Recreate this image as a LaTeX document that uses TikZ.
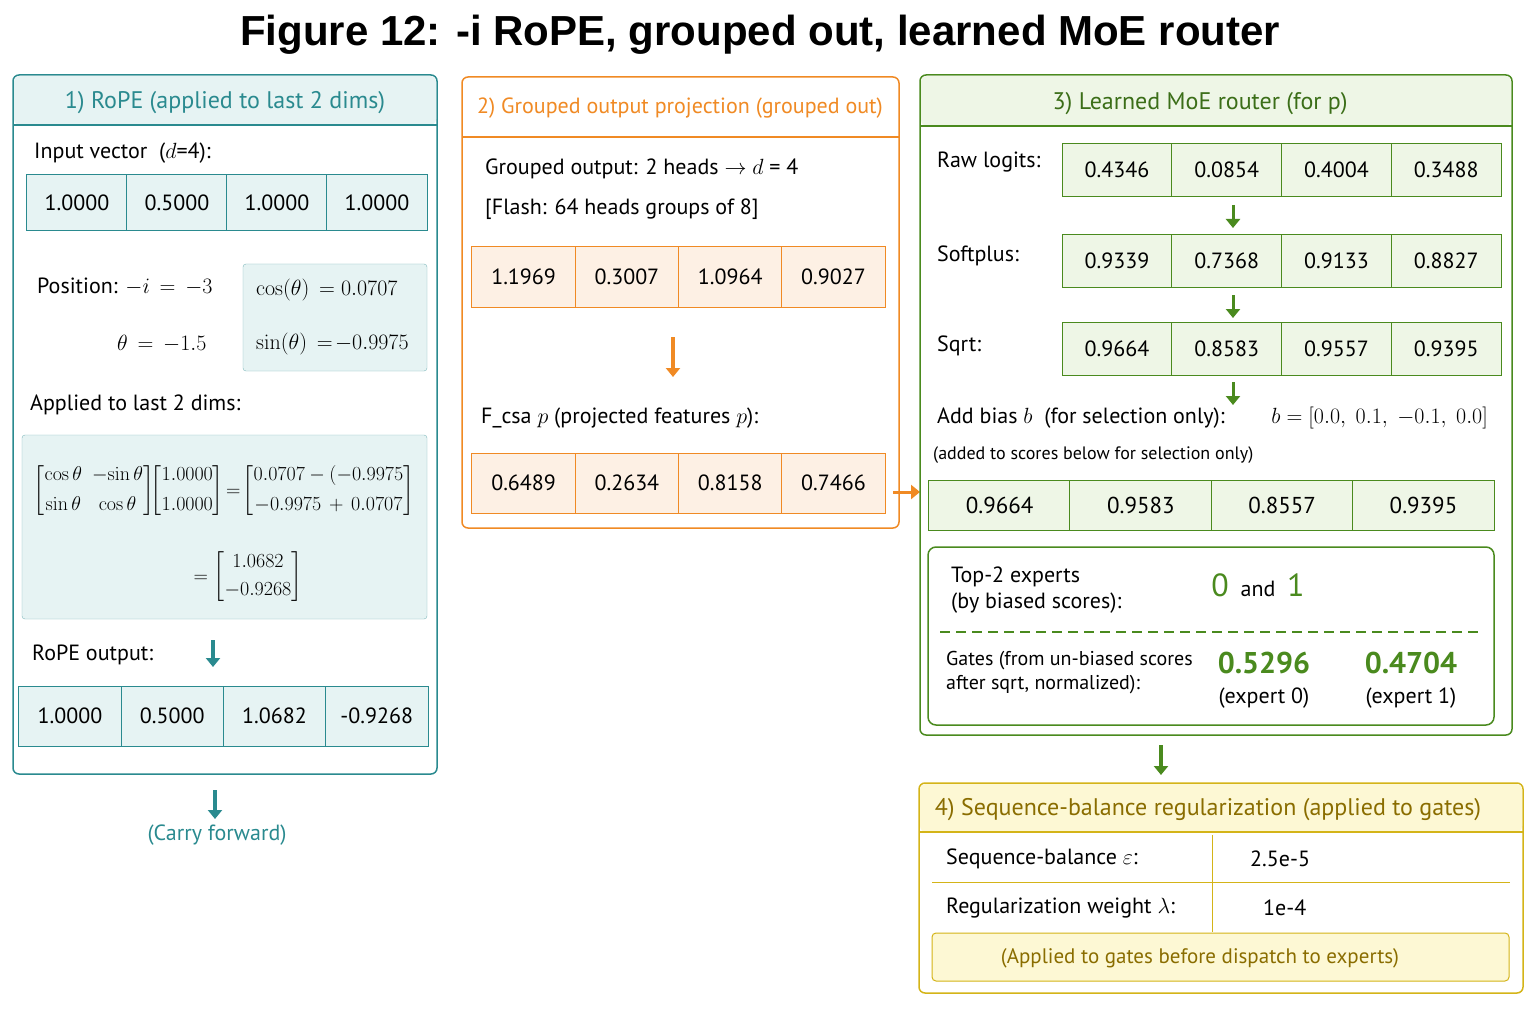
\RequirePackage{fix-cm}
\documentclass[tikz,border=0pt]{standalone}
\usepackage{amsmath}
\usepackage[no-math]{fontspec}
\setmainfont{PT Sans}
\newfontfamily\titlefont{Liberation Sans}
\usetikzlibrary{arrows.meta}
\DeclareMathSizes{22}{22}{16}{12}
\DeclareMathSizes{20}{20}{15}{11}
\definecolor{teal1}{HTML}{2A8A8F}\definecolor{tealf}{HTML}{E6F3F3}
\definecolor{ora}{HTML}{F08A24}\definecolor{oraf}{HTML}{FDF0E4}
\definecolor{grn}{HTML}{4A8A1E}\definecolor{grnf}{HTML}{EEF6E6}
\definecolor{gold}{HTML}{D4B418}\definecolor{goldf}{HTML}{FDF8D4}\definecolor{goldt}{HTML}{8A6D00}
\newcommand{\fs}[1]{\fontsize{#1}{#1}\selectfont}
\begin{document}
\begin{tikzpicture}[x=1pt,y=-1pt,
 txt/.style={anchor=west,font=\fs{22},inner sep=0pt},
 arr/.style={-{Triangle[length=9pt,width=14pt]},line width=3.5pt,#1}]
\useasboundingbox (0,0) rectangle (1536,1024);
\node[font=\titlefont\bfseries\fs{42}] (title) at (760,35) {Figure 12: -i RoPE, grouped out, learned MoE router};
% ---- panel 1
\draw[teal1,line width=1.5pt,rounded corners=6pt,fill=white] (13,75) rectangle (437,774);
\fill[tealf,rounded corners=6pt] (14,76) rectangle (436,125);
\draw[teal1,line width=1.5pt] (13,125) -- (437,125);
\node[font=\fs{24},text=teal1] (t1) at (225,103) {1)~RoPE (applied to last 2 dims)};
\node[txt] (iv) at (34,153) {Input vector \ ($d$=4):};
\foreach \v [count=\i] in {1.0000,0.5000,1.0000,1.0000}
  \node[draw=teal1,fill=tealf,line width=1pt,minimum width=101pt,minimum height=56pt,font=\fs{22}] (a\i) at (77+100*\i-100,203) {\v};
\node[txt] (pos) at (37,287) {Position: $-i\,=\,-3$};
\node[txt] (th) at (117,344) {$\theta\,=\,-1.5$};
\draw[teal1!60,fill=tealf,rounded corners=3pt] (243,264) rectangle (427,371);
\node[txt] (cs) at (256,290) {$\mathrm{cos}(\theta)\,=0.0707$};
\node[txt] (sn) at (256,344) {$\mathrm{sin}(\theta)\,=\!-0.9975$};
\node[txt] (ap) at (30,405) {Applied to last 2 dims:};
\draw[teal1!60,fill=tealf,rounded corners=3pt] (22,435) rectangle (427,619);
\node[font=\fs{20},inner sep=0pt] (mx) at (224,491) {$\left[\begin{matrix}\mathrm{cos}\,\theta & -\mathrm{sin}\,\theta\\[10pt] \mathrm{sin}\,\theta & \mathrm{cos}\,\theta\end{matrix}\right]\!\!\left[\begin{matrix}1.0000\\[10pt]1.0000\end{matrix}\right]\!=\!\left[\begin{matrix}0.0707-(-0.9975\\[10pt] -0.9975\,+\,0.0707\end{matrix}\right]$};
\node[font=\fs{20},inner sep=0pt] (mx2) at (248,577) {$=\left[\begin{matrix}1.0682\\[8pt]-0.9268\end{matrix}\right]$};
\node[txt] (ro) at (32,655) {RoPE output:};
\coordinate (r1) at (213,640); \coordinate (r2) at (213,667);
\draw[arr=teal1] (r1) -- (r2);
\foreach \v [count=\i] in {1.0000,0.5000,1.0682,-0.9268}
  \node[draw=teal1,fill=tealf,line width=1pt,minimum width=102.5pt,minimum height=60pt,font=\fs{22}] (b\i) at (70+102.25*\i-102.25,716) {\v};
\coordinate (c1) at (215,790); \coordinate (c2) at (215,819);
\draw[arr=teal1] (c1) -- (c2);
\node[font=\fs{22},text=teal1] (cf) at (217,835) {(Carry forward)};
% ---- panel 2
\draw[ora,line width=1.5pt,rounded corners=6pt,fill=white] (462,77) rectangle (899,528);
\draw[ora,line width=1.5pt] (462,137) -- (899,137);
\node[font=\fs{22},text=ora] (t2) at (680,108) {2)~Grouped output projection (grouped out)};
\node[txt] (go) at (485,169) {Grouped output: 2 heads $\to$ $d$ = 4};
\node[txt] (fl) at (485,209) {[Flash: 64 heads groups of 8]};
\foreach \v [count=\i] in {1.1969,0.3007,1.0964,0.9027}
  \node[draw=ora,fill=oraf,line width=1pt,minimum width=103.5pt,minimum height=60pt,font=\fs{22}] (p\i) at (523.6+103.3*\i-103.3,277) {\v};
\coordinate (o1) at (673,337); \coordinate (o2) at (673,377);
\draw[arr=ora] (o1) -- (o2);
\node[txt] (fc) at (481,418) {F\_csa $p$ (projected features $p$):};
\foreach \v [count=\i] in {0.6489,0.2634,0.8158,0.7466}
  \node[draw=ora,fill=oraf,line width=1pt,minimum width=103.5pt,minimum height=60pt,font=\fs{22}] (q\i) at (523.6+103.3*\i-103.3,483) {\v};
\coordinate (x1) at (893,492); \coordinate (x2) at (920,492);
\draw[arr=ora,line width=3pt] (x1) -- (x2);
% ---- panel 3
\draw[grn,line width=1.5pt,rounded corners=6pt,fill=white] (920,75) rectangle (1512,735);
\fill[grnf,rounded corners=6pt] (921,76) rectangle (1511,126);
\draw[grn,line width=1.5pt] (920,126) -- (1512,126);
\node[font=\fs{24},text=grn!80!black] (t3) at (1200,104) {3)~Learned MoE router (for p)};
\node[txt] (rl) at (937,162) {Raw logits:};
\node[txt] (sp) at (937,256) {Softplus:};
\node[txt] (sq) at (937,346) {Sqrt:};
\foreach \r/\y/\vals in {u/170/{0.4346,0.0854,0.4004,0.3488},v/261/{0.9339,0.7368,0.9133,0.8827},w/349/{0.9664,0.8583,0.9557,0.9395}}
  \foreach \v [count=\i] in \vals
    \node[draw=grn,fill=grnf,line width=1pt,minimum width=110pt,minimum height=53pt,font=\fs{22}] (\r\i) at (1117+109.75*\i-109.75,\y) {\v};
\foreach \a/\b in {205/228,295/318,382/405}{
  \draw[arr=grn,line width=3pt] (1233,\a) -- (1233,\b);}
\node[txt] (ab) at (937,418) {Add bias $b$ \ (for selection only):};
\node[font=\fs{22},anchor=east,inner sep=0pt] (bv) at (1488,418) {$b=[0.0,\ 0.1,\ -0.1,\ 0.0]$};
\node[txt,font=\fs{18}] (ad) at (933,455) {(added to scores below for selection only)};
\foreach \v [count=\i] in {0.9664,0.9583,0.8557,0.9395}
  \node[draw=grn,fill=grnf,line width=1pt,minimum width=142pt,minimum height=50pt,font=\fs{23}] (s\i) at (999.6+141.3*\i-141.3,505) {\v};
\draw[grn,line width=1.5pt,rounded corners=8pt] (928,547) rectangle (1494,725);
\node[txt,align=left] (tp) at (951,590) {Top-2 experts\\[4pt](by biased scores):};
\node[font=\fs{22}] (sel) at (1258,585) {\textcolor{grn}{\fs{32}0}\ \ and\ \ \textcolor{grn}{\fs{32}1}};
\draw[grn,line width=1.2pt,dash pattern=on 10pt off 6pt] (940,632) -- (1483,632);
\node[txt,align=left,font=\fs{20}] (gt) at (946,673) {Gates (from un-biased scores\\[4pt]after sqrt, normalized):};
\node[font=\bfseries\fs{30},text=grn] (g0) at (1264,663) {0.5296};
\node[font=\fs{22}] (e0) at (1264,698) {(expert 0)};
\node[font=\bfseries\fs{30},text=grn] (g1) at (1411,663) {0.4704};
\node[font=\fs{22}] (e1) at (1411,698) {(expert 1)};
\coordinate (y1) at (1161,745); \coordinate (y2) at (1161,775);
\draw[arr=grn] (y1) -- (y2);
% ---- panel 4
\draw[gold,line width=1.5pt,rounded corners=6pt,fill=white] (919,783) rectangle (1523,993);
\fill[goldf,rounded corners=6pt] (920,784) rectangle (1522,832);
\draw[gold,line width=1.5pt] (919,832) -- (1523,832);
\node[font=\fs{24},text=goldt] (t4) at (1208,810) {4)~Sequence-balance regularization (applied to gates)};
\draw[gold,line width=1pt] (932,882) -- (1510,882);
\draw[gold,line width=1pt] (1212,835) -- (1212,932);
\node[txt] (sb) at (946,859) {Sequence-balance $\varepsilon$:};
\node[txt] (sbv) at (1250,859) {2.5e-5};
\node[txt] (rw) at (946,908) {Regularization weight $\lambda$:};
\node[txt] (rwv) at (1263,908) {1e-4};
\draw[gold,fill=goldf,line width=1pt,rounded corners=4pt] (932,933) rectangle (1509,981);
\node[font=\fs{21},text=goldt] (nt) at (1200,958) {(Applied to gates before dispatch to experts)};
\end{tikzpicture}
\end{document}
